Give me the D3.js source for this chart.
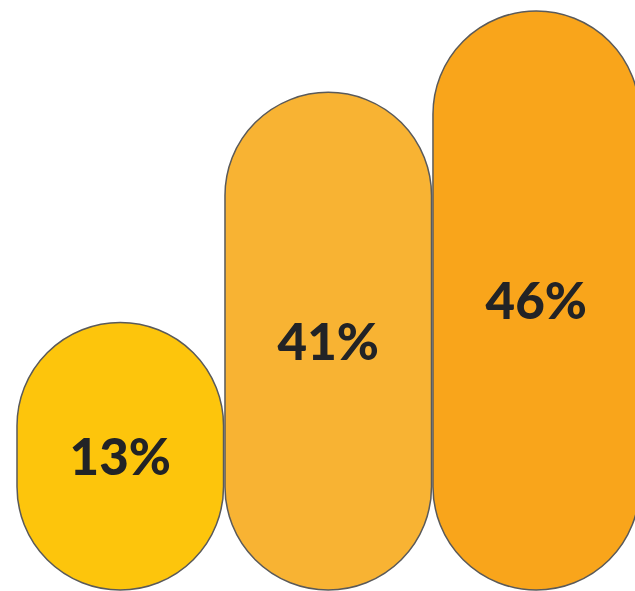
<!DOCTYPE html>
<html>
<head>
<meta charset="utf-8">
<script src="https://cdn.jsdelivr.net/npm/d3@7"></script>
<style>
  html, body { margin: 0; padding: 0; background: #fff; }
  svg { display: block; }
</style>
</head>
<body>
<div id="chart"></div>
<script>
// data
var categories = ["A", "B", "C"];
var values = [13, 41, 46];
var labels = ["13%", "41%", "46%"];
var colors = ["#FDC50C", "#F8B333", "#F9A51B"];

var width = 635, height = 591;
var baseline = 590;

var x = d3.scaleBand()
    .domain(categories)
    .range([17, 17 + 3 * 207.5])
    .paddingInner(0.007)
    .paddingOuter(0)
    .align(0);

// pill heights grow faster than the values in the original graphic
var h = d3.scalePow()
    .exponent(2.5)
    .domain([0, 46])
    .range([253.7, 579]);

var svg = d3.select("#chart")
    .append("svg")
    .attr("width", width)
    .attr("height", height);

function pill(x0, w, top, bottom) {
    var r = w / 2;
    var p = d3.path();
    p.moveTo(x0, top + r);
    p.arc(x0 + r, top + r, r, Math.PI, 2 * Math.PI);
    p.lineTo(x0 + w, bottom - r);
    p.arc(x0 + r, bottom - r, r, 0, Math.PI);
    p.closePath();
    return p.toString();
}

var bars = svg.selectAll(".bar")
    .data(values)
    .enter()
    .append("g")
    .classed("bar", true);

bars.append("path")
    .attr("d", function (d, i) {
        return pill(x(categories[i]), x.bandwidth(), baseline - h(d), baseline);
    })
    .attr("fill", function (d, i) { return colors[i]; })
    .attr("stroke", "#5a5a5a")
    .attr("stroke-width", 1.5);

bars.append("text")
    .attr("x", function (d, i) { return x(categories[i]) + x.bandwidth() / 2; })
    .attr("y", function (d) { return baseline - h(d) / 2; })
    .attr("dy", "0.36em")
    .attr("text-anchor", "middle")
    .attr("font-family", "Lato, 'Open Sans', sans-serif")
    .attr("font-weight", 900)
    .attr("font-size", 51)
    .attr("fill", "#222326")
    .text(function (d, i) { return labels[i]; });
</script>
</body>
</html>
